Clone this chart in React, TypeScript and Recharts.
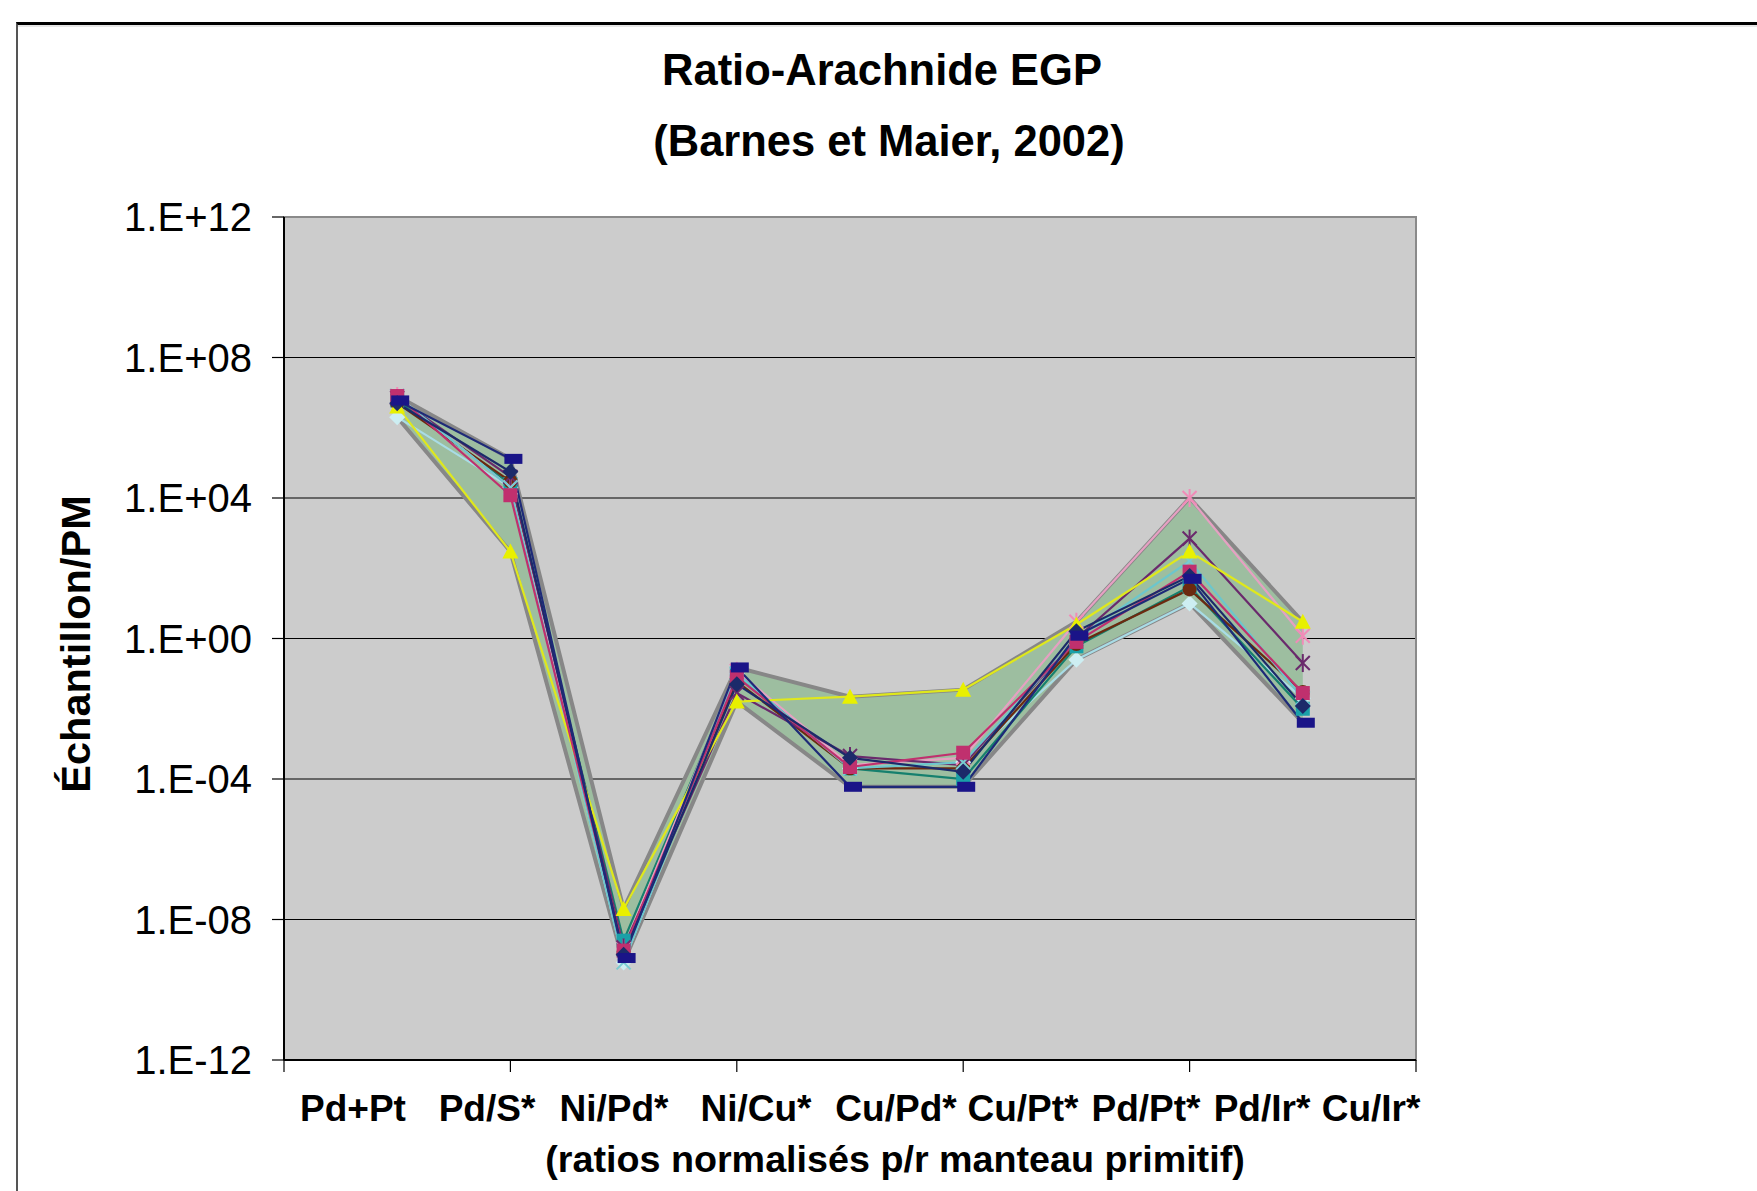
import React from 'react';
import { ComposedChart, Line, Area, XAxis, YAxis, CartesianGrid, ReferenceArea } from 'recharts';

document.body.style.margin = '0';
document.body.style.overflow = 'hidden';

const categories = ['Pd+Pt', 'Pd/S*', 'Ni/Pd*', 'Ni/Cu*', 'Cu/Pd*', 'Cu/Pt*', 'Pd/Pt*', 'Pd/Ir*', 'Cu/Ir*'];
const positions = [1, 2, 3, 4, 5, 6, 7, 8, 9];
const yTicks = [1e-12, 1e-8, 1e-4, 1, 1e4, 1e8, 1e12];
const xTicks = [0, 2, 4, 6, 8, 10];

// one list per sample, values normalised to primitive mantle
const navySquare = [6e6, 1.3e5, 8e-10, 1.5e-1, 6e-5, 6e-5, 1.2, 50, 4e-3];
const navyDiamond = [5e6, 5.6e4, 1e-9, 5e-2, 4e-4, 1.6e-4, 1.6, 60, 1.2e-2];
const magentaSquare = [8e6, 1.2e4, 1.3e-9, 8e-2, 2.2e-4, 5.6e-4, 0.8, 80, 2.8e-2];
const yellowTriangle = [4e6, 3e2, 2e-8, 1.6e-2, 2.2e-2, 3.5e-2, 2.5, 300, 3];
const cyanCross = [8e6, 2e4, 6e-10, 1e-1, 2e-4, 3e-4, 1, 160, 2e-2];
const purpleStar = [7e6, 4e4, 1.6e-9, 2.8e-2, 4.5e-4, 2.5e-4, 1, 700, 2e-1];
const brownCircle = [5e6, 3e4, 1.2e-9, 6e-2, 2e-4, 2e-4, 0.7, 25, 3e-2];
const tealSquare = [6e6, 2.5e4, 2.5e-9, 1e-1, 2e-4, 1e-4, 0.6, 30, 1e-2];
const pinkStar = [8e6, 2e4, 1.5e-9, 1.2e-1, 2.5e-4, 4e-4, 3, 1e4, 1.2];
const paleDiamond = [2e6, 2e4, 6e-10, 1e-1, 2e-4, 3e-4, 0.25, 10, 2e-2];

const series = [
  { key: 'paleDiamond', values: paleDiamond, color: '#a8dce6', marker: '#cdeef2', shape: 'diamond' },
  { key: 'tealSquare', values: tealSquare, color: '#16806e', marker: '#1aa0a8', shape: 'square' },
  { key: 'brownCircle', values: brownCircle, color: '#6b2a10', marker: '#6b2a10', shape: 'circle' },
  { key: 'pinkStar', values: pinkStar, color: '#e6a0c2', marker: '#f08cb8', shape: 'star' },
  { key: 'purpleStar', values: purpleStar, color: '#6a2a6c', marker: '#6a2a6c', shape: 'star' },
  { key: 'cyanCross', values: cyanCross, color: '#6cc6cc', marker: '#78ccd2', shape: 'x' },
  { key: 'yellowTriangle', values: yellowTriangle, color: '#dfe81c', marker: '#e8f000', shape: 'triangle' },
  { key: 'magentaSquare', values: magentaSquare, color: '#c0306e', marker: '#c0306e', shape: 'square' },
  { key: 'navyDiamond', values: navyDiamond, color: '#1c2a6a', marker: '#1c2a6a', shape: 'diamond' },
  { key: 'navySquare', values: navySquare, color: '#1e2a78', marker: '#1a1488', shape: 'dash' },
];

const data = positions.map((x, i) => {
  const row: any = { x };
  const vals = series.map((s) => s.values[i]);
  row.env = [Math.min(...vals), Math.max(...vals)];
  series.forEach((s) => (row[s.key] = s.values[i]));
  return row;
});

// layout (page pixels)
const W = 1757;
const H = 1191;
const plot = { left: 284, top: 217, right: 1416, bottom: 1060 };
const labelCenters = [353, 487, 614, 756, 896, 1023, 1146, 1262, 1371];
const font = '"Liberation Sans", Arial, sans-serif';

function fmtTick(v: number) {
  const e = Math.round(Math.log10(v));
  return `1.E${e < 0 ? '-' : '+'}${String(Math.abs(e)).padStart(2, '0')}`;
}

function makeDot(shape: string, color: string) {
  return (props: any) => {
    const { cx, cy, index } = props;
    const k = `d${index}`;
    if (cx == null || cy == null) return <g key={k} />;
    const s = 7;
    switch (shape) {
      case 'square':
        return <rect key={k} x={cx - s} y={cy - s} width={s * 2} height={s * 2} fill={color} />;
      case 'dash':
        return <rect key={k} x={cx - 6} y={cy - 5} width={18} height={10} fill={color} />;
      case 'diamond':
        return <polygon key={k} points={`${cx},${cy - s - 1} ${cx + s + 1},${cy} ${cx},${cy + s + 1} ${cx - s - 1},${cy}`} fill={color} />;
      case 'triangle':
        return <polygon key={k} points={`${cx},${cy - s - 1} ${cx + s + 1},${cy + s} ${cx - s - 1},${cy + s}`} fill={color} />;
      case 'circle':
        return <circle key={k} cx={cx} cy={cy} r={s} fill={color} />;
      case 'x':
        return (
          <g key={k} stroke={color} strokeWidth={2}>
            <line x1={cx - s} y1={cy - s} x2={cx + s} y2={cy + s} />
            <line x1={cx - s} y1={cy + s} x2={cx + s} y2={cy - s} />
          </g>
        );
      case 'star':
        return (
          <g key={k} stroke={color} strokeWidth={2}>
            <line x1={cx - s} y1={cy - s} x2={cx + s} y2={cy + s} />
            <line x1={cx - s} y1={cy + s} x2={cx + s} y2={cy - s} />
            <line x1={cx} y1={cy - s - 2} x2={cx} y2={cy + s + 2} />
          </g>
        );
      default:
        return <g key={k} />;
    }
  };
}

const noTick = () => <g />;

export default function App() {
  return (
    <div style={{ position: 'relative', width: W, height: H, overflow: 'hidden', background: '#fff', fontFamily: font }}>
      <div
        style={{
          position: 'absolute',
          left: 16,
          top: 22,
          width: 1900,
          height: 1400,
          borderTop: '3px solid #000',
          borderLeft: '2px solid #555',
          boxShadow: 'inset 0 2px 0 #e6e6e6',
        }}
      />
      <div style={{ position: 'absolute', left: 0, width: 1764, top: 44, textAlign: 'center', fontSize: 43.5, fontWeight: 'bold', lineHeight: '52px' }}>
        Ratio-Arachnide EGP
      </div>
      <div style={{ position: 'absolute', left: 0, width: 1778, top: 115, textAlign: 'center', fontSize: 43.5, fontWeight: 'bold', lineHeight: '52px' }}>
        (Barnes et Maier, 2002)
      </div>
      <div
        style={{
          position: 'absolute',
          left: 76,
          top: 644,
          transform: 'translate(-50%, -50%) rotate(-90deg)',
          fontSize: 41.5,
          fontWeight: 'bold',
          whiteSpace: 'nowrap',
        }}
      >
        Échantillon/PM
      </div>
      {categories.map((c, i) => (
        <div
          key={c}
          style={{
            position: 'absolute',
            left: labelCenters[i],
            top: 1109,
            transform: 'translate(-50%, -50%)',
            fontSize: 37,
            fontWeight: 'bold',
            whiteSpace: 'nowrap',
          }}
        >
          {c}
        </div>
      ))}
      <div style={{ position: 'absolute', left: 895, top: 1159, transform: 'translate(-50%, -50%)', fontSize: 37.7, fontWeight: 'bold', whiteSpace: 'nowrap' }}>
        (ratios normalisés p/r manteau primitif)
      </div>
      <div style={{ position: 'absolute', left: 0, top: 0 }}>
        <ComposedChart
          width={W}
          height={H}
          data={data}
          margin={{ left: 0, top: plot.top, right: W - plot.right, bottom: 0 }}
        >
          <CartesianGrid horizontal vertical={false} stroke="#000" strokeWidth={1.2} fill="#cccccc" />
          <ReferenceArea x1={0} x2={10} y1={1e-12} y2={1e12} fill="none" stroke="#8a8a8a" strokeWidth={2} ifOverflow="visible" />
          <XAxis
            type="number"
            dataKey="x"
            domain={[0, 10]}
            ticks={xTicks}
            height={H - plot.bottom}
            tick={noTick}
            tickSize={12}
            tickLine={{ stroke: '#000', strokeWidth: 1.2 }}
            axisLine={{ stroke: '#000', strokeWidth: 2 }}
            allowDataOverflow
          />
          <YAxis
            scale="log"
            type="number"
            domain={[1e-12, 1e12]}
            ticks={yTicks}
            width={plot.left}
            tickFormatter={fmtTick}
            tickSize={12}
            tickMargin={20}
            tick={{ fill: '#000', fontSize: 40, fontFamily: font }}
            tickLine={{ stroke: '#000', strokeWidth: 1.2 }}
            axisLine={{ stroke: '#000', strokeWidth: 2 }}
            allowDataOverflow
          />
          <Area dataKey="env" fill="#9dbea0" fillOpacity={1} stroke="none" isAnimationActive={false} />
          {series.map((s) => (
            <Line
              key={s.key}
              dataKey={s.key}
              stroke={s.color}
              strokeWidth={2.2}
              dot={makeDot(s.shape, s.marker)}
              activeDot={false}
              isAnimationActive={false}
            />
          ))}
          <Area dataKey="env" fill="none" stroke="#878787" strokeWidth={4} isAnimationActive={false} />
        </ComposedChart>
      </div>
    </div>
  );
}
